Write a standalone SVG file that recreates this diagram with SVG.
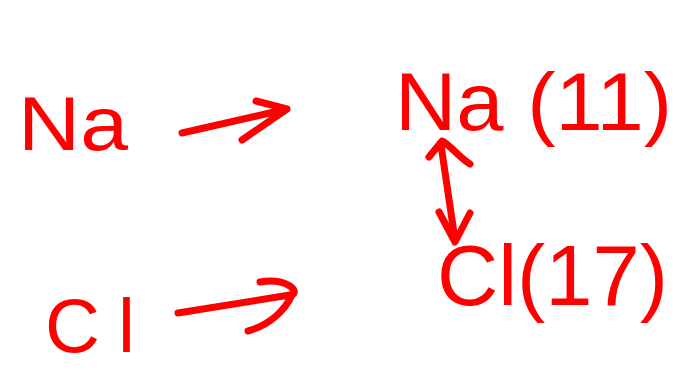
<svg xmlns="http://www.w3.org/2000/svg" width="679" height="370" viewBox="0 0 679 370">
<style>
.t{font-family:"Liberation Sans",Arial,sans-serif;fill:#ff0000;}
.c{fill:none;stroke:#ff0000;stroke-width:7;stroke-linecap:round;stroke-linejoin:round;}
</style>
<rect width="679" height="370" fill="#ffffff"/>
<g id="na-left"><text class="t" x="18" y="150" font-size="76" textLength="110" lengthAdjust="spacingAndGlyphs">Na</text></g>
<g id="cl-left"><text class="t" x="45" y="352" font-size="76" textLength="90" lengthAdjust="spacing">Cl</text></g>
<g id="na-right"><text class="t" x="395" y="130" font-size="82" textLength="277" lengthAdjust="spacingAndGlyphs">Na (11)</text></g>
<g id="cl-right"><text class="t" x="437" y="305" font-size="86" textLength="231" lengthAdjust="spacingAndGlyphs">Cl(17)</text></g>
<g id="connectors">
<path class="c" d="M182,133 L287,109 M256,101 L287,109 L242,140"/>
<path class="c" d="M178,313 L290,295 M260,282 C285,278 300,290 292,295 C285,310 270,325 248,331"/>
<path class="c" d="M441,145 L455,240 M429,157 L442,141 C450,145 460,158 470,164 M439,212 L455,242 L470,213"/>
</g>
</svg>
